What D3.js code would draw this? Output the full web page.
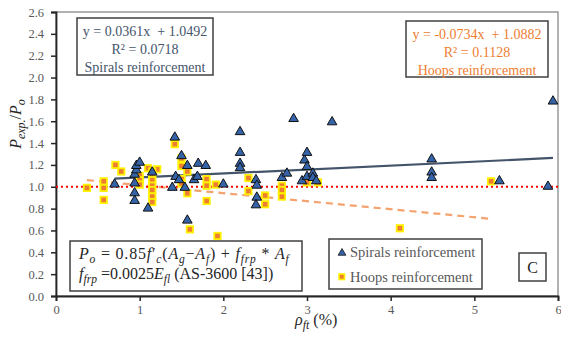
<!DOCTYPE html>
<html>
<head>
<meta charset="utf-8">
<script src="https://cdn.jsdelivr.net/npm/d3@7"></script>
<style>
  html, body { margin: 0; padding: 0; background: #fff; }
  svg { display: block; }
  svg text { font-family: "Liberation Serif", "Times New Roman", Times, "DejaVu Serif", serif; }
</style>
</head>
<body>
<svg id="chart" width="561" height="339"></svg>
<script>
// Reinforcement ratio (%) and normalised capacity for spiral-confined columns
const spiralRho = [0.70, 0.94, 0.94, 0.94, 0.94, 0.96, 0.96, 1.00, 1.10, 1.15,
  1.39, 1.42, 1.43, 1.47, 1.50, 1.54, 1.57, 1.57, 1.65, 1.69, 1.70, 1.79,
  2.00, 2.20, 2.20, 2.20, 2.20, 2.39, 2.40, 2.40, 2.39,
  2.70, 2.76, 2.84, 2.94, 2.97, 3.00, 3.00, 3.00, 3.07, 3.07, 3.11, 3.30,
  4.49, 4.49, 4.49, 5.30, 5.88, 5.94];
const spiralRatio = [1.03, 0.95, 0.88, 1.04, 1.12, 1.16, 1.20, 1.23, 0.81, 1.14,
  1.00, 1.46, 1.10, 1.07, 1.29, 1.00, 1.20, 0.70, 1.07, 1.10, 1.22, 1.20,
  1.03, 1.51, 1.32, 1.22, 1.18, 1.07, 1.02, 0.91, 0.84,
  1.09, 1.13, 1.63, 1.06, 1.25, 1.32, 1.19, 1.10, 1.13, 1.09, 1.06, 1.60,
  1.26, 1.14, 1.09, 1.06, 1.01, 1.79];

// Same for hoop-confined columns
const hoopRho = [0.37, 0.57, 0.57, 0.57, 0.71, 0.78,
  1.00, 1.00, 1.00, 1.10, 1.21,
  1.15, 1.15, 1.15, 1.15, 1.15, 1.15, 1.15,
  1.42, 1.50, 1.50, 1.50, 1.50, 1.57, 1.57, 1.60,
  1.80, 1.80, 1.80, 1.91, 1.93,
  2.30, 2.30, 2.50, 2.50,
  2.70, 2.70, 2.70, 3.00, 3.13,
  4.11, 5.20];
const hoopRatio = [0.99, 0.99, 1.05, 0.88, 1.20, 1.14,
  1.10, 1.06, 1.02, 1.17, 1.16,
  1.14, 1.10, 1.06, 1.01, 0.97, 0.91, 0.86,
  1.39, 1.26, 1.19, 1.07, 1.03, 1.14, 0.94, 0.61,
  1.07, 1.01, 0.87, 1.02, 0.55,
  1.08, 0.96, 0.92, 0.84,
  1.01, 0.97, 0.91, 1.04, 1.04,
  0.62, 1.05];

// Linear trend lines (slope, intercept)
const spiralFit = [0.0361, 1.0492];
const hoopFit = [-0.0734, 1.0882];
const spiralFitText = ["y = 0.0361x  + 1.0492", "R² = 0.0718", "Spirals reinforcement"];
const hoopFitText = ["y = -0.0734x  + 1.0882", "R² = 0.1128", "Hoops reinforcement"];

const xTicks = [0, 1, 2, 3, 4, 5, 6];
const yTicks = [0, 0.2, 0.4, 0.6, 0.8, 1.0, 1.2, 1.4, 1.6, 1.8, 2.0, 2.2, 2.4, 2.6];
const legendLabels = ["Spirals reinforcement", "Hoops reinforcement"];

const spiralColor = "#44546A";
const hoopColor = "#ED7D31";
const textGrey = "#595959";
const serif = "'Liberation Serif', 'Times New Roman', Times, 'DejaVu Serif', serif";

const svg = d3.select("#chart");
const W = 561, H = 339;
const m = { left: 56, right: 3, top: 12, bottom: 43 };

const x = d3.scaleLinear().domain([0, 6]).range([m.left, W - m.right]);
const y = d3.scaleLinear().domain([0, 2.6]).range([H - m.bottom, m.top]);

// Plot frame (top and right)
svg.append("rect")
  .attr("x", x(0)).attr("y", y(2.6))
  .attr("width", x(6) - x(0)).attr("height", y(0) - y(2.6))
  .attr("fill", "none").attr("stroke", "#7f7f7f").attr("stroke-width", 1.2);

// Axes
const yAxis = svg.append("g").attr("transform", `translate(${x(0)},0)`)
  .call(d3.axisLeft(y).tickValues(yTicks).tickFormat(d3.format(".1f")).tickSize(5).tickPadding(7));
const xAxis = svg.append("g").attr("transform", `translate(0,${y(0)})`)
  .call(d3.axisBottom(x).tickValues(xTicks).tickFormat(d3.format("d")).tickSize(5).tickPadding(4));
[xAxis, yAxis].forEach(g => {
  g.attr("font-family", serif);
  g.select(".domain").attr("stroke", "#262626").attr("stroke-width", 1.8);
  g.selectAll(".tick line").attr("stroke", "#262626").attr("stroke-width", 1.5);
  g.selectAll(".tick text").attr("fill", textGrey)
    .style("font-family", serif).style("font-size", "12.5px");
});

// Trend lines over each series' range
function trend(rho, fit) {
  const x0 = d3.min(rho), x1 = d3.max(rho);
  return [[x0, fit[0] * x0 + fit[1]], [x1, fit[0] * x1 + fit[1]]];
}
const line = d3.line().x(d => x(d[0])).y(d => y(d[1]));

svg.append("path").datum(trend(hoopRho, hoopFit))
  .attr("d", line).attr("fill", "none")
  .attr("stroke", "#F4A26E").attr("stroke-width", 2.2).attr("stroke-dasharray", "7,5");

svg.append("path").datum(trend(spiralRho, spiralFit))
  .attr("d", line).attr("fill", "none")
  .attr("stroke", spiralColor).attr("stroke-width", 2.2);

// Reference line at Pexp/Po = 1
svg.append("line")
  .attr("x1", x(0)).attr("x2", x(6)).attr("y1", y(1)).attr("y2", y(1))
  .attr("stroke", "#FF0000").attr("stroke-width", 2).attr("stroke-dasharray", "2,3");

// Markers
const tri = d3.symbol().type(d3.symbolTriangle).size(40);
const hoops = hoopRho.map((r, i) => [r, hoopRatio[i]]);
const spirals = spiralRho.map((r, i) => [r, spiralRatio[i]]);

svg.append("g").selectAll("rect").data(hoops).join("rect")
  .attr("x", d => x(d[0]) - 3.2).attr("y", d => y(d[1]) - 3.2)
  .attr("width", 6.4).attr("height", 6.4)
  .attr("fill", hoopColor).attr("stroke", "#FFF200").attr("stroke-width", 1.8);

svg.append("g").selectAll("path").data(spirals).join("path")
  .attr("d", tri)
  .attr("transform", d => `translate(${x(d[0])},${y(d[1]) + 0.8})`)
  .attr("fill", "#3563A8").attr("stroke", "#111").attr("stroke-width", 1);

// Trend-line equation boxes
function eqBox(bx, by, bw, bh, lines, color) {
  svg.append("rect").attr("x", bx).attr("y", by).attr("width", bw).attr("height", bh)
    .attr("fill", "#fff").attr("stroke", "#404040").attr("stroke-width", 1.5);
  svg.append("text").attr("x", bx + bw / 2).attr("y", by + 18)
    .attr("text-anchor", "middle").attr("fill", color).style("font-size", "14px")
    .selectAll("tspan").data(lines).join("tspan")
    .attr("x", bx + bw / 2).attr("dy", (d, i) => i === 0 ? 0 : 18)
    .style("white-space", "pre")
    .text(d => d);
}
eqBox(77, 18, 136, 57, spiralFitText, spiralColor);
eqBox(406, 21, 142, 56, hoopFitText, hoopColor);

// Capacity formula box
svg.append("rect").attr("x", 70).attr("y", 241).attr("width", 232).attr("height", 50)
  .attr("fill", "#fff").attr("stroke", "#404040").attr("stroke-width", 1.5);

function richText(tx, ty, parts, size, spacing) {
  const t = svg.append("text").attr("x", tx).attr("y", ty).attr("fill", "#262626")
    .style("font-size", size + "px").style("white-space", "pre")
    .style("letter-spacing", (spacing || 0) + "px");
  parts.forEach(p => {
    const s = t.append("tspan").text(p.t);
    if (p.i) s.style("font-style", "italic");
    if (p.sub) s.attr("dy", 3.5).style("font-size", (size * 0.72) + "px");
    if (p.up) s.attr("dy", -3.5);
  });
  return t;
}
richText(79, 259, [
  { t: "P", i: 1 }, { t: "o", i: 1, sub: 1 }, { t: " = 0.85", up: 1 }, { t: "f", i: 1 }, { t: "′" },
  { t: "c", i: 1, sub: 1 }, { t: "(", up: 1 }, { t: "A", i: 1 }, { t: "g", i: 1, sub: 1 },
  { t: "−", up: 1 }, { t: "A", i: 1 }, { t: "f", i: 1, sub: 1 }, { t: ") + ", up: 1 },
  { t: "f", i: 1 }, { t: "frp", i: 1, sub: 1 }, { t: " * ", up: 1 }, { t: "A", i: 1 },
  { t: "f", i: 1, sub: 1 }
], 16, 0.8);
richText(79, 279, [
  { t: "f", i: 1 }, { t: "frp", i: 1, sub: 1 }, { t: " =0.0025", up: 1 }, { t: "E", i: 1 },
  { t: "fl", i: 1, sub: 1 }, { t: " (AS-3600 [43])", up: 1 }
], 16, 0);

// Legend
svg.append("rect").attr("x", 329).attr("y", 239).attr("width", 153).attr("height", 50)
  .attr("fill", "#fff").attr("stroke", "#404040").attr("stroke-width", 1.5);
svg.append("path").attr("d", d3.symbol().type(d3.symbolTriangle).size(26))
  .attr("transform", "translate(342,253)")
  .attr("fill", "#3563A8").attr("stroke", "#111").attr("stroke-width", 0.8);
svg.append("rect").attr("x", 339).attr("y", 274).attr("width", 5.5).attr("height", 5.5)
  .attr("fill", hoopColor).attr("stroke", "#FFF200").attr("stroke-width", 1.6);
svg.selectAll(".leg").data(legendLabels).join("text").attr("class", "leg")
  .attr("x", 350).attr("y", (d, i) => 257 + i * 25)
  .attr("fill", textGrey).style("font-size", "14.5px").text(d => d);

// Panel tag
svg.append("rect").attr("x", 519).attr("y", 253).attr("width", 27).attr("height", 28)
  .attr("fill", "#fff").attr("stroke", "#404040").attr("stroke-width", 1.5);
svg.append("text").attr("x", 532.5).attr("y", 273).attr("text-anchor", "middle")
  .attr("fill", "#262626").style("font-size", "16px").text("C");

// Axis titles
const yt = svg.append("text")
  .attr("transform", "translate(21,124) rotate(-90)")
  .attr("text-anchor", "middle").attr("fill", "#262626").style("font-size", "16px");
yt.append("tspan").text("P").style("font-style", "italic");
yt.append("tspan").text("exp.").style("font-style", "italic").style("font-size", "12px").attr("dy", 3.5);
yt.append("tspan").text("/").attr("dy", -3.5);
yt.append("tspan").text("P").style("font-style", "italic");
yt.append("tspan").text("o").style("font-style", "italic").style("font-size", "12px").attr("dy", 3.5);

const xt = svg.append("text").attr("x", 295).attr("y", 325)
  .attr("fill", "#262626").style("font-size", "16px").style("white-space", "pre");
xt.append("tspan").text("ρ").style("font-style", "italic");
xt.append("tspan").text("ft").style("font-style", "italic").style("font-size", "12px").attr("dy", 3.5);
xt.append("tspan").text(" (%)").attr("dy", -3.5);
</script>
</body>
</html>
